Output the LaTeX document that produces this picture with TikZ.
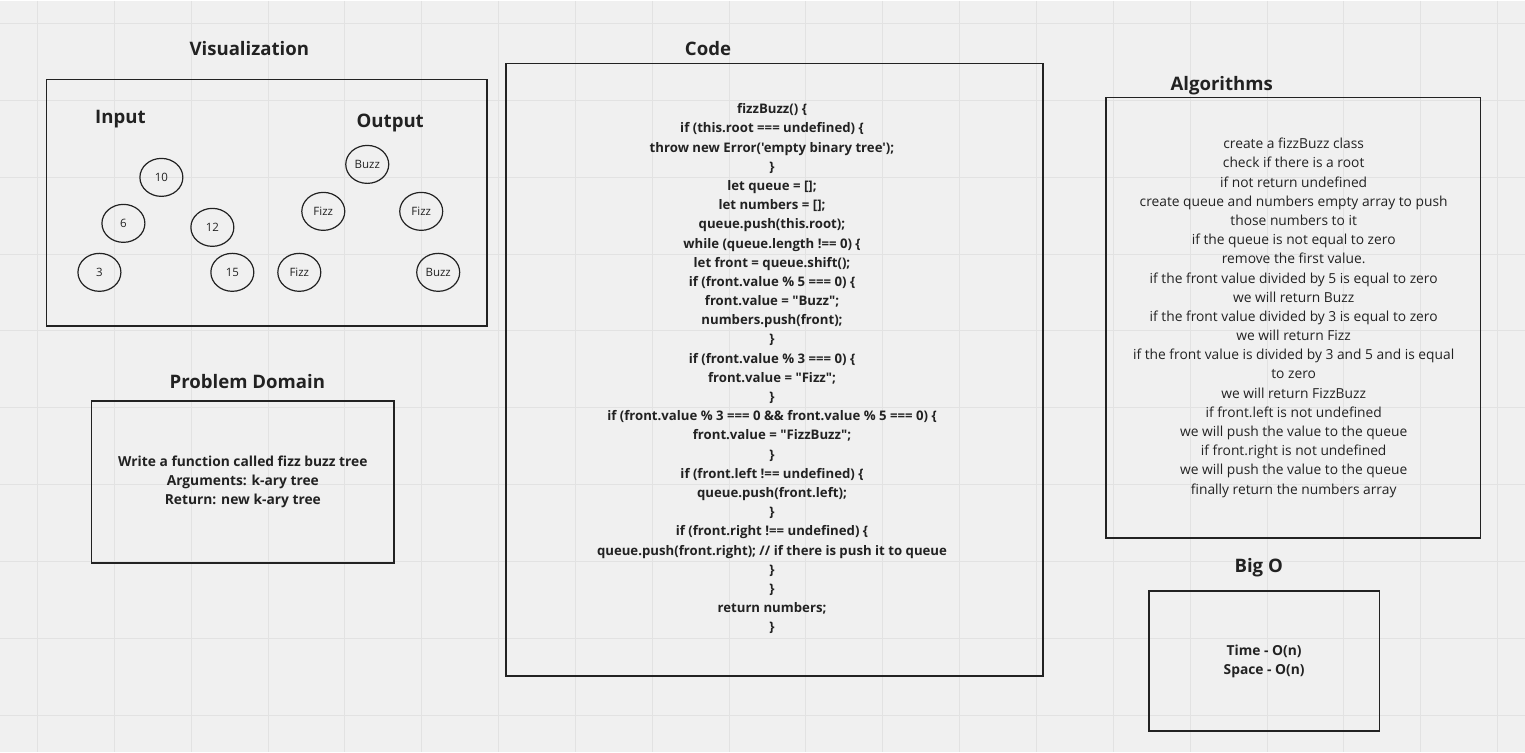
\documentclass[tikz,border=0pt]{standalone}
\usepackage{fontspec}
\setmainfont{Open Sans}[Ligatures=TeXOff]
\usetikzlibrary{shapes.geometric,positioning}
\definecolor{paper}{HTML}{F0F0F0}
\definecolor{gridline}{HTML}{E2E2E2}
\definecolor{ink}{HTML}{222222}

\begin{document}
\begin{tikzpicture}[x=1pt,y=-1pt,
	panel/.style={draw=ink,line width=1.6pt,inner sep=0pt},
	heading/.style={font=\fontsize{18.6}{22}\selectfont\bfseries,text=ink,text depth=0pt},
	tnode/.style={ellipse,draw=ink,line width=1.2pt,minimum width=43pt,minimum height=38pt,inner sep=0pt,font=\fontsize{11.5}{13}\selectfont,text=ink},
	codetext/.style={align=center,text=ink,font=\fontsize{13.2}{19.2}\selectfont\bfseries},
	boldtext/.style={align=center,text=ink,font=\fontsize{13.8}{19.2}\selectfont\bfseries},
	algotext/.style={align=center,text=ink,font=\fontsize{13.8}{19.2}\selectfont}]
	% background and grid
	\fill[paper] (0,0) rectangle (1525,752);
	\foreach \i in {0,...,19}
	\draw[gridline,line width=1pt] (37+76.9*\i,0) -- (37+76.9*\i,752);
	\foreach \j in {0,...,9}
	\draw[gridline,line width=1pt] (0,23+76.9*\j) -- (1525,23+76.9*\j);

	% Visualization
	\node[heading] (vistitle) at (249,48) {Visualization};
	\node[panel,minimum width=441pt,minimum height=247pt] (vis) at (266.5,202.5) {};
	\node[heading] (input) at (120,116) {Input};
	\node[heading] (output) at (390,120) {Output};
	\node[tnode] (n10) at (161,177) {10};
	\node[tnode] (n6) at (123,223) {6};
	\node[tnode] (n12) at (212,227) {12};
	\node[tnode] (n3) at (99,272) {3};
	\node[tnode] (n15) at (232,272) {15};
	\node[tnode] (o10) at (367,164) {Buzz};
	\node[tnode] (o6) at (323,211) {Fizz};
	\node[tnode] (o12) at (421,211) {Fizz};
	\node[tnode] (o3) at (299,272) {Fizz};
	\node[tnode] (o15) at (438,272) {Buzz};

	% Problem Domain
	\node[heading] (probtitle) at (247,381) {Problem Domain};
	\node[panel,minimum width=303pt,minimum height=162pt,boldtext] (prob) at (242.5,482) {Write a function called fizz buzz tree\\Arguments: k-ary tree\\Return: new k-ary tree};

	% Code
	\node[heading] (codetitle) at (708,48) {Code};
	\node[panel,minimum width=537pt,minimum height=613pt] (code) at (774.5,369.5) {};
	\node[codetext] (codebody) at (772,368.5) {fizzBuzz() \{\\
	if (this.root === undefined) \{\\
	throw new Error('empty binary tree');\\
	\}\\
	let queue = [];\\
	let numbers = [];\\
	queue.push(this.root);\\
	while (queue.length !== 0) \{\\
	let front = queue.shift();\\
	if (front.value \% 5 === 0) \{\\
	front.value = "Buzz";\\
	numbers.push(front);\\
	\}\\
	if (front.value \% 3 === 0) \{\\
	front.value = "Fizz";\\
	\}\\
	if (front.value \% 3 === 0 \&\& front.value \% 5 === 0) \{\\
	front.value = "FizzBuzz";\\
	\}\\
	if (front.left !== undefined) \{\\
	queue.push(front.left);\\
	\}\\
	if (front.right !== undefined) \{\\
	queue.push(front.right); // if there is push it to queue\\
	\}\\
	\}\\
	return numbers;\\
	\}};

	% Algorithms
	\node[heading] (algotitle) at (1222,83) {Algorithms};
	\node[panel,minimum width=375pt,minimum height=441pt] (algo) at (1293.5,317.5) {};
	\node[algotext] (algobody) at (1294,317.5) {create a fizzBuzz class\\
	check if there is a root\\
	if not return undefined\\
	create queue and numbers empty array to push\\
	those numbers to it\\
	if the queue is not equal to zero\\
	remove the first value.\\
	if the front value divided by 5 is equal to zero\\
	we will return Buzz\\
	if the front value divided by 3 is equal to zero\\
	we will return Fizz\\
	if the front value is divided by 3 and 5 and is equal\\
	to zero\\
	we will return FizzBuzz\\
	if front.left is not undefined\\
	we will push the value to the queue\\
	if front.right is not undefined\\
	we will push the value to the queue\\
	finally return the numbers array};

	% Big O
	\node[heading] (bigotitle) at (1259,565) {Big O};
	\node[panel,minimum width=231pt,minimum height=140pt,boldtext] (bigo) at (1264.5,661) {Time - O(n)\\Space - O(n)};
\end{tikzpicture}
\end{document}
